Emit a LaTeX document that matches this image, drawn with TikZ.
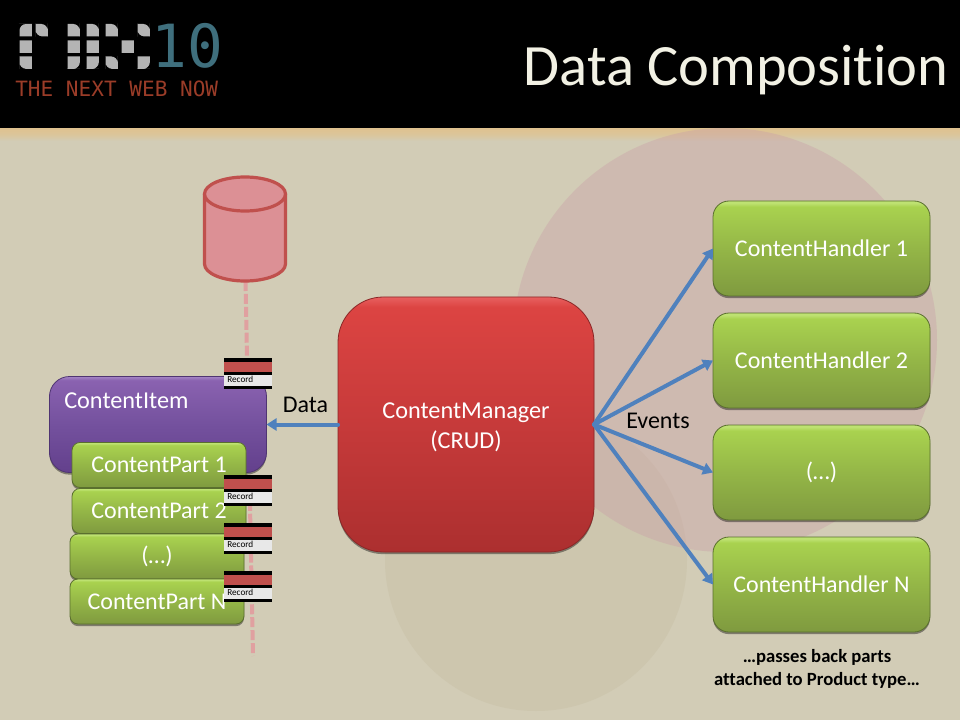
\documentclass[tikz,border=0pt]{standalone}
\usepackage{fontspec}
\setmainfont[Ligatures=NoCommon]{Carlito}
\newfontfamily\logofont{DejaVu Sans Mono}
\usetikzlibrary{arrows.meta,shadows}
\definecolor{bgbeige}{HTML}{D2CCB6}
\definecolor{bgtan}{HTML}{DFC28F}
\definecolor{pinktint}{HTML}{CA9FA7}
\definecolor{lowc}{HTML}{CDC6AE}
\definecolor{arrowblue}{HTML}{4F81BD}
\definecolor{dbfill}{HTML}{DC9095}
\definecolor{dbline}{HTML}{C0504D}
\definecolor{dashpink}{HTML}{E0A0A0}
\definecolor{recred}{HTML}{C0504D}
\definecolor{recgray}{HTML}{E8E8E8}
\definecolor{titlec}{HTML}{F2F1E4}
\definecolor{logogray}{HTML}{B4B4B4}
\definecolor{logoteal}{HTML}{3F6F7D}
\definecolor{logored}{HTML}{9A3C28}
\definecolor{gA}{HTML}{7F9A3F}\definecolor{gB}{HTML}{94B647}\definecolor{gC}{HTML}{A9D24F}\definecolor{gD}{HTML}{BEE272}\definecolor{gE}{HTML}{5A6F2E}
\definecolor{rA}{HTML}{AC2F2F}\definecolor{rB}{HTML}{C63A3A}\definecolor{rC}{HTML}{DC4442}\definecolor{rD}{HTML}{E86060}\definecolor{rE}{HTML}{8A2626}
\definecolor{pA}{HTML}{63408C}\definecolor{pB}{HTML}{74519E}\definecolor{pC}{HTML}{8A62B0}\definecolor{pD}{HTML}{A585C5}\definecolor{pE}{HTML}{4F3472}
\pgfdeclareverticalshading{greengloss}{100bp}{
 color(0bp)=(gA); color(25bp)=(gA); color(50bp)=(gB);
 color(72bp)=(gC); color(74bp)=(gD); color(100bp)=(gD)}
\pgfdeclareverticalshading{redgloss}{100bp}{
 color(0bp)=(rA); color(25bp)=(rA); color(50bp)=(rB);
 color(73bp)=(rC); color(75bp)=(rD); color(100bp)=(rD)}
\pgfdeclareverticalshading{purplegloss}{100bp}{
 color(0bp)=(pA); color(25bp)=(pA); color(50bp)=(pB);
 color(73bp)=(pC); color(75bp)=(pD); color(100bp)=(pD)}
\tikzset{
 x=0.75pt,y=-0.75pt,
 boxsize/.style 2 args={minimum width=#1*0.75pt,minimum height=#2*0.75pt,inner sep=0pt,outer sep=0pt},
 softshadow/.style={drop shadow={shadow xshift=0pt,shadow yshift=-1.6pt,opacity=.4,fill=black}},
 greenbox/.style={shading=greengloss,draw=gE,line width=.6pt,softshadow,text=white,align=center,font=\fontsize{18pt}{22pt}\selectfont},
 handlerbox/.style={greenbox,rounded corners=12pt,boxsize={217}{95}},
 partbox/.style={greenbox,rounded corners=6pt,boxsize={174}{45}},
 redbox/.style={shading=redgloss,draw=rE,line width=.6pt,softshadow,rounded corners=34pt},
 purplebox/.style={shading=purplegloss,draw=pE,line width=.6pt,softshadow,rounded corners=15pt},
 flow/.style={draw=arrowblue,line width=3pt,line cap=round,-{Triangle[length=7.5pt,width=9pt]}},
 plainlabel/.style={text=black,font=\fontsize{18pt}{22pt}\selectfont},
 dbstyle/.style={fill=dbfill,draw=dbline,line width=2.4pt},
 recordlabel/.style={font=\fontsize{6.9pt}{7pt}\selectfont,text=black,anchor=west,inner sep=0pt},
 tilefill/.style={fill=logogray},
}
% x y tr br bl tl : one tile of the logo, with a radius for each corner
\newcommand{\tileR}[6]{%
 \fill[tilefill] (#1+6,#2)
   [rounded corners=#3pt] -- (#1+12.3,#2) -- (#1+12.3,#2+6)
   [rounded corners=#4pt] -- (#1+12.3,#2+12.3) -- (#1+6,#2+12.3)
   [rounded corners=#5pt] -- (#1,#2+12.3) -- (#1,#2+6)
   [rounded corners=#6pt] -- (#1,#2) -- cycle;
}
\newcommand{\lowered}[1]{\raisebox{-1.2pt}{#1}}
\begin{document}
\begin{tikzpicture}
\useasboundingbox (0,0) rectangle (960,720);
% background
\fill[bgbeige] (0,128) rectangle (960,720);
\shade[top color=bgtan,bottom color=bgbeige,middle color=bgtan!70!bgbeige] (0,128) rectangle (960,141);
\fill[lowc] (536,560) circle[radius=151];
\fill[pinktint,fill opacity=.4] (725,340) circle[radius=212];
\fill[black] (0,0) rectangle (960,128);
% logo
\tileR{19.5}{24}{0.01}{0.01}{0.01}{5}
\tileR{35.5}{24}{5}{0.01}{5}{0.01}
\tileR{67.5}{24}{5}{0.01}{0.01}{0.01}
\tileR{86.5}{24}{5}{0.01}{0.01}{0.01}
\tileR{105.5}{24}{5}{0.01}{0.01}{0.01}
\tileR{137.5}{24}{5}{0.01}{5}{0.01}
\tileR{19.5}{40.5}{0.01}{0.01}{0.01}{0.01}
\tileR{67.5}{40.5}{0.01}{0.01}{0.01}{0.01}
\tileR{86.5}{40.5}{0.01}{0.01}{0.01}{0.01}
\tileR{121.5}{40.5}{0.01}{0.01}{0.01}{0.01}
\tileR{19.5}{56.5}{0.01}{0.01}{5}{0.01}
\tileR{67.5}{56.5}{0.01}{5}{0.01}{0.01}
\tileR{86.5}{56.5}{0.01}{5}{0.01}{0.01}
\tileR{105.5}{56.5}{5}{0.01}{5}{0.01}
\tileR{137.5}{56.5}{0.01}{5}{0.01}{0.01}
\node[anchor=base west,inner sep=0pt,text=logoteal] (logonum) at (151.5,68) {\logofont\fontsize{44.6pt}{45pt}\selectfont 10};
\node[anchor=base west,inner sep=0pt,text=logored] (logotag) at (15,97) {\logofont\fontsize{15.8pt}{16pt}\selectfont THE NEXT WEB NOW};
\node[anchor=base east,inner sep=0pt,text=titlec] (title) at (949,85.5) {\fontsize{43.9pt}{46pt}\selectfont Data Composition};
% database and its dashed line
\coordinate (dbfoot) at (245.5,281);
\coordinate (dashend) at (253,656);
\draw[dashpink,line width=3pt,dash pattern=on 7.5pt off 2.2pt] (dbfoot) -- (dashend);
\draw[dbstyle] (204.5,194) -- (204.5,264) arc[start angle=180,end angle=360,x radius=40.5,y radius=-17] -- (285.5,194);
\draw[dbstyle] (245,194) ellipse[x radius=40.5,y radius=17];
% content item and parts
\node[purplebox,boxsize={217}{96}] (item) at (158,424.5) {};
\node[anchor=west,inner sep=0pt,text=white,font=\fontsize{18.2pt}{20pt}\selectfont] (itemlabel) at (64,400.5) {ContentItem};
\node[partbox] (part1) at (159,465) {\lowered{ContentPart 1}};
\node[partbox] (part2) at (159,511) {\lowered{ContentPart 2}};
\node[partbox] (partx) at (157,556.5) {\lowered{(…)}};
\node[partbox] (partn) at (157,601.5) {\lowered{ContentPart N}};
% records
\foreach \rid/\ry in {a/358,b/475,c/523,d/571}{
 \fill[black] (224,\ry) rectangle (272,\ry+31);
 \fill[recred] (224,\ry+4) rectangle (272,\ry+14);
 \fill[recgray] (224,\ry+16.5) rectangle (272,\ry+28);
 \node[recordlabel] (rec\rid) at (227,\ry+21.5) {Record};
}
% manager
\node[redbox,boxsize={256}{255}] (mgr) at (466,424.5) {};
\node[align=center,text=white,font=\fontsize{18.2pt}{22.5pt}\selectfont] (mgrlabel) at (466,427.5) {ContentManager\\(CRUD)};
% handlers
\node[handlerbox] (h1) at (821.5,248.5) {ContentHandler 1};
\node[handlerbox] (h2) at (821.5,360.5) {ContentHandler 2};
\node[handlerbox] (h3) at (821.5,472.5) {(…)};
\node[handlerbox] (h4) at (821.5,584.5) {ContentHandler N};
% connectors
\draw[flow] (mgr.west) -- (item.east);
\draw[flow] (mgr.east) -- (h1.west);
\draw[flow] (mgr.east) -- (h2.west);
\draw[flow] (mgr.east) -- (h3.west);
\draw[flow] (mgr.east) -- (h4.west);
% labels
\node[plainlabel] (datalabel) at (305.5,405) {Data};
\node[plainlabel] (eventslabel) at (658,421) {Events};
\node[align=center,text=black,font=\bfseries\fontsize{14pt}{17pt}\selectfont] (note) at (817,669) {…passes back parts\\attached to Product type…};
\end{tikzpicture}
\end{document}
